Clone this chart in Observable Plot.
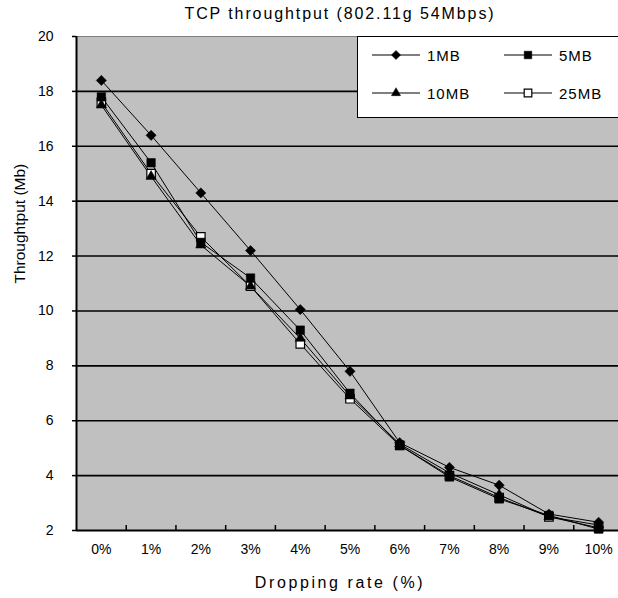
<!DOCTYPE html>
<html>
<head>
<meta charset="utf-8">
<script src="https://cdn.jsdelivr.net/npm/d3@7"></script>
<script src="https://cdn.jsdelivr.net/npm/@observablehq/plot@0.6"></script>
<style>
  html, body { margin: 0; padding: 0; background: #fff; overflow: hidden; }
  #wrap { position: relative; width: 618px; height: 598px; overflow: hidden; font-family: "Liberation Sans", Arial, sans-serif; }
  #title { position: absolute; left: 0; width: 680px; top: 5px; text-align: center; font-size: 16px; letter-spacing: 1.9px; color: #000; }
  #legend { position: absolute; left: 357px; top: 36px; width: 270px; height: 82px; background: #fff; border: 1px solid #000; box-sizing: border-box; }
  .li { position: absolute; display: flex; align-items: center; font-size: 15px; letter-spacing: 1px; color: #000; }
  #chart svg { display: block; }
  .xtitle { letter-spacing: 2.6px; }
</style>
</head>
<body>
<div id="wrap">
  <div id="chart"></div>
  <div id="title">TCP throughtput (802.11g 54Mbps)</div>
  <div id="legend"></div>
</div>
<script>
const categories = ["0%","1%","2%","3%","4%","5%","6%","7%","8%","9%","10%"];
const seriesNames = ["1MB","5MB","10MB","25MB"];
const mb1  = [18.4, 16.4, 14.3, 12.2, 10.05, 7.8, 5.2, 4.3, 3.65, 2.6, 2.3];
const mb5  = [17.8, 15.4, 12.5, 11.2, 9.3, 7.0, 5.1, 3.95, 3.15, 2.55, 2.05];
const mb10 = [17.5, 14.9, 12.4, 10.9, 9.0, 6.9, 5.15, 4.1, 3.3, 2.5, 2.2];
const mb25 = [17.6, 15.0, 12.7, 10.9, 8.8, 6.8, 5.1, 4.0, 3.2, 2.5, 2.1];
const yTicks = [2,4,6,8,10,12,14,16,18,20];
const gridTicks = [4,6,8,10,12,14,16,18];
const symbolNames = ["diamond2","square","triangle","square"];
const fills = ["black","black","black","white"];
const radii = [4.6, 4.8, 3.8, 4.8];
const d3Symbols = {diamond2: d3.symbolDiamond2, square: d3.symbolSquare, triangle: d3.symbolTriangle};

const valuesBySeries = [mb1, mb5, mb10, mb25];
const rows = [];
valuesBySeries.forEach((vals, s) => vals.forEach((v, i) => rows.push({i, cat: categories[i], y: v, series: seriesNames[s], s})));
const idx = categories.map((c, i) => i);
const between = categories.slice(1).map((c, i) => i + 0.5);

// draw 25MB markers first so filled markers lie on top
const markerOrder = [3, 0, 1, 2];

const plot = Plot.plot({
  width: 618,
  height: 598,
  marginTop: 36,
  marginBottom: 68,
  marginLeft: 76,
  marginRight: 0,
  style: {fontFamily: "'Liberation Sans', Arial, sans-serif", fontSize: "14px", color: "#000", background: "transparent"},
  x: {type: "linear", domain: [-0.5, 10.5], range: [76, 623]},
  y: {domain: [2, 20], range: [530, 36]},
  marks: [
    Plot.frame({fill: "#c0c0c0", stroke: "#808080"}),
    Plot.ruleY(gridTicks, {stroke: "#000", strokeWidth: 1.6}),
    Plot.axisY({ticks: yTicks, tickSize: 4, tickPadding: 19, label: null, fontSize: 14, strokeWidth: 1.5, fill: "#000"}),
    Plot.axisX({ticks: idx, tickFormat: i => categories[i], tickSize: 0, tickPadding: 14, label: null, fontSize: 14, fill: "#000"}),
    Plot.tickX(between, {stroke: "#000", strokeWidth: 1.5, insetTop: 489}),
    Plot.ruleX([-0.5], {stroke: "#000", strokeWidth: 2}),
    Plot.ruleY([2], {stroke: "#000", strokeWidth: 2}),
    ...seriesNames.map((name, s) => Plot.line(rows.filter(d => d.s === s), {x: "i", y: "y", stroke: "#000", strokeWidth: 1})),
    ...markerOrder.map(s => Plot.dot(rows.filter(d => d.s === s), {x: "i", y: "y", symbol: () => symbolNames[s], r: radii[s], fill: fills[s], stroke: "#000", strokeWidth: s === 3 ? 1.2 : 0.5})),
    Plot.text(["Throughtput (Mb)"], {frameAnchor: "left", dx: -56, rotate: -90, fontSize: 15.5, fill: "#000"}),
    Plot.text(["Dropping rate (%)"], {frameAnchor: "bottom", x: 4.8, dy: 57, fontSize: 16, fill: "#000", className: "xtitle"})
  ]
});
document.getElementById("chart").appendChild(plot);

// legend
const legend = d3.select("#legend");
const pos = [[13, 18], [145, 18], [13, 56], [145, 56]];
seriesNames.forEach((name, s) => {
  const item = legend.append("div").attr("class", "li").style("left", pos[s][0] + "px").style("top", (pos[s][1] - 10) + "px");
  const svg = item.append("svg").attr("width", 54).attr("height", 20);
  svg.append("line").attr("x1", 1).attr("x2", 49).attr("y1", 10).attr("y2", 10).attr("stroke", "#000").attr("stroke-width", 1.2);
  svg.append("path").attr("transform", "translate(25,10)")
    .attr("d", d3.symbol(d3Symbols[symbolNames[s]], Math.PI * radii[s] * radii[s] * 0.8)())
    .attr("fill", fills[s]).attr("stroke", "#000").attr("stroke-width", s === 3 ? 1.2 : 0.5);
  item.append("span").text(name).style("margin-left", "2px");
});
</script>
</body>
</html>
